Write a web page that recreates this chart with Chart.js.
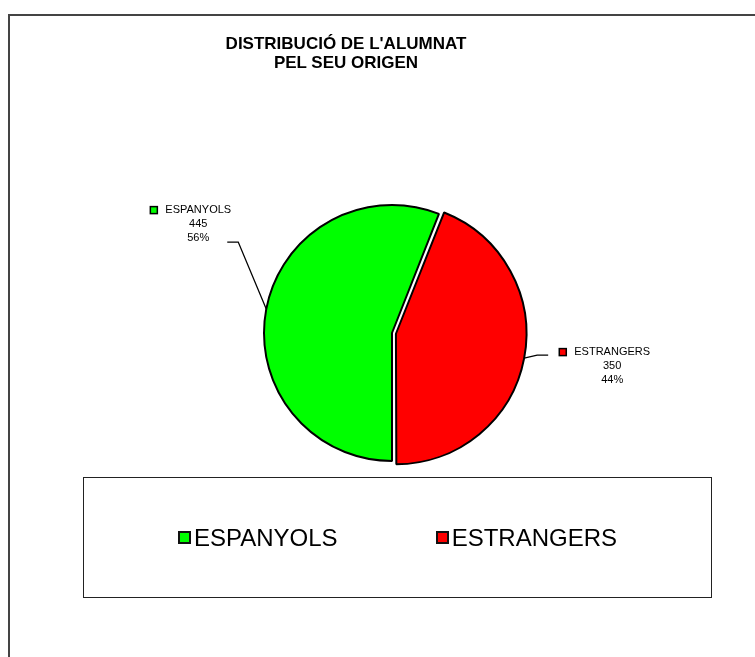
<!DOCTYPE html>
<html lang="ca">
<head>
    <meta charset="UTF-8">
    <title>Distribució de l'alumnat</title>
    <script src="https://cdn.jsdelivr.net/npm/chart.js"></script>
    <style>
        body { margin: 0; width: 755px; height: 657px; overflow: hidden; background: #fff; position: relative;
               font-family: "Liberation Sans", Arial, sans-serif; color: #000; }
        .frame { position: absolute; left: 8px; top: 14px; width: 800px; height: 700px;
                 border-top: 2px solid #444; border-left: 2px solid #444; }
        #wrap { position: absolute; left: 0; top: 0; width: 755px; height: 657px; }
        .title { position: absolute; left: 146px; top: 35px; width: 400px; text-align: center;
                 font-weight: bold; font-size: 17px; line-height: 18.5px; }
        .legend { position: absolute; left: 83px; top: 477px; width: 629px; height: 121px; box-sizing: border-box;
                  border: 1px solid #222; display: flex; align-items: center; justify-content: center; gap: 98px;
                  font-size: 24px; }
        .legend .item { display: flex; align-items: center; gap: 3px; }
        .legend .key { width: 9px; height: 9px; border: 2px solid #111; }
    </style>
</head>
<body>
    <div class="frame"></div>
    <div id="wrap"><canvas id="pie"></canvas></div>
    <div class="title">DISTRIBUCIÓ DE L'ALUMNAT<br>PEL SEU ORIGEN</div>
    <div class="legend" id="legend"></div>

    <script>
        // dades
        const labels = ['ESPANYOLS', 'ESTRANGERS'];
        const values = [445, 350];
        const colors = ['#00FF00', '#FF0000'];
        const explode = [0, 16];

        // posicio de les etiquetes respecte del punt de la vora
        const labelOffsets = [
            { elbow: [-28, -67], end: [-39, -67], text: [-68, -99] },
            { elbow: [13, -3], end: [24, -3], text: [88, -6] }
        ];

        const total = values.reduce((a, b) => a + b, 0);

        const leaderLabels = {
            id: 'leaderLabels',
            afterDatasetsDraw(chart) {
                const ctx = chart.ctx;
                const meta = chart.getDatasetMeta(0);
                ctx.save();
                meta.data.forEach((arc, i) => {
                    const p = arc.getProps(['x', 'y', 'startAngle', 'endAngle', 'outerRadius']);
                    const mid = (p.startAngle + p.endAngle) / 2;
                    // chart.js desplaça l'arc offset/4 i l'eixampla offset/4 * fix
                    const off = explode[i] / 4;
                    const fix = 1 - Math.sin(Math.min(Math.PI, p.endAngle - p.startAngle));
                    const r = p.outerRadius + off * fix + off;
                    const x0 = p.x + Math.cos(mid) * r;
                    const y0 = p.y + Math.sin(mid) * r;
                    const o = labelOffsets[i];

                    ctx.strokeStyle = '#000';
                    ctx.lineWidth = 1.3;
                    ctx.beginPath();
                    ctx.moveTo(x0, y0);
                    ctx.lineTo(x0 + o.elbow[0], y0 + o.elbow[1]);
                    ctx.lineTo(x0 + o.end[0], y0 + o.end[1]);
                    ctx.stroke();

                    const tx = x0 + o.text[0];
                    const ty = y0 + o.text[1];
                    ctx.font = '11px "Liberation Sans", Arial, sans-serif';
                    ctx.fillStyle = '#000';
                    ctx.textAlign = 'center';
                    ctx.textBaseline = 'middle';
                    const lines = [labels[i], String(values[i]), Math.round(values[i] / total * 100) + '%'];
                    lines.forEach((t, k) => ctx.fillText(t, tx, ty + k * 13.8));

                    const w = ctx.measureText(labels[i]).width;
                    const sx = tx - w / 2 - 15;
                    ctx.fillStyle = colors[i];
                    ctx.fillRect(sx, ty - 3.5, 7, 7);
                    ctx.lineWidth = 1.5;
                    ctx.strokeRect(sx, ty - 3.5, 7, 7);
                });
                ctx.restore();
            }
        };

        new Chart(document.getElementById('pie'), {
            type: 'pie',
            data: {
                labels: labels,
                datasets: [{
                    data: values,
                    backgroundColor: colors,
                    borderColor: '#000',
                    borderWidth: 2,
                    offset: explode,
                    radius: 128
                }]
            },
            options: {
                responsive: true,
                maintainAspectRatio: false,
                animation: false,
                events: [],
                rotation: 180,
                layout: { padding: { left: 150, right: 121, top: 150, bottom: 141 } },
                plugins: {
                    legend: { display: false },
                    title: { display: false },
                    tooltip: { enabled: false }
                }
            },
            plugins: [leaderLabels]
        });

        // llegenda
        const legend = document.getElementById('legend');
        labels.forEach((l, i) => {
            const item = document.createElement('div');
            item.className = 'item';
            const key = document.createElement('span');
            key.className = 'key';
            key.style.background = colors[i];
            const txt = document.createElement('span');
            txt.textContent = l;
            item.appendChild(key);
            item.appendChild(txt);
            legend.appendChild(item);
        });
    </script>
</body>
</html>
